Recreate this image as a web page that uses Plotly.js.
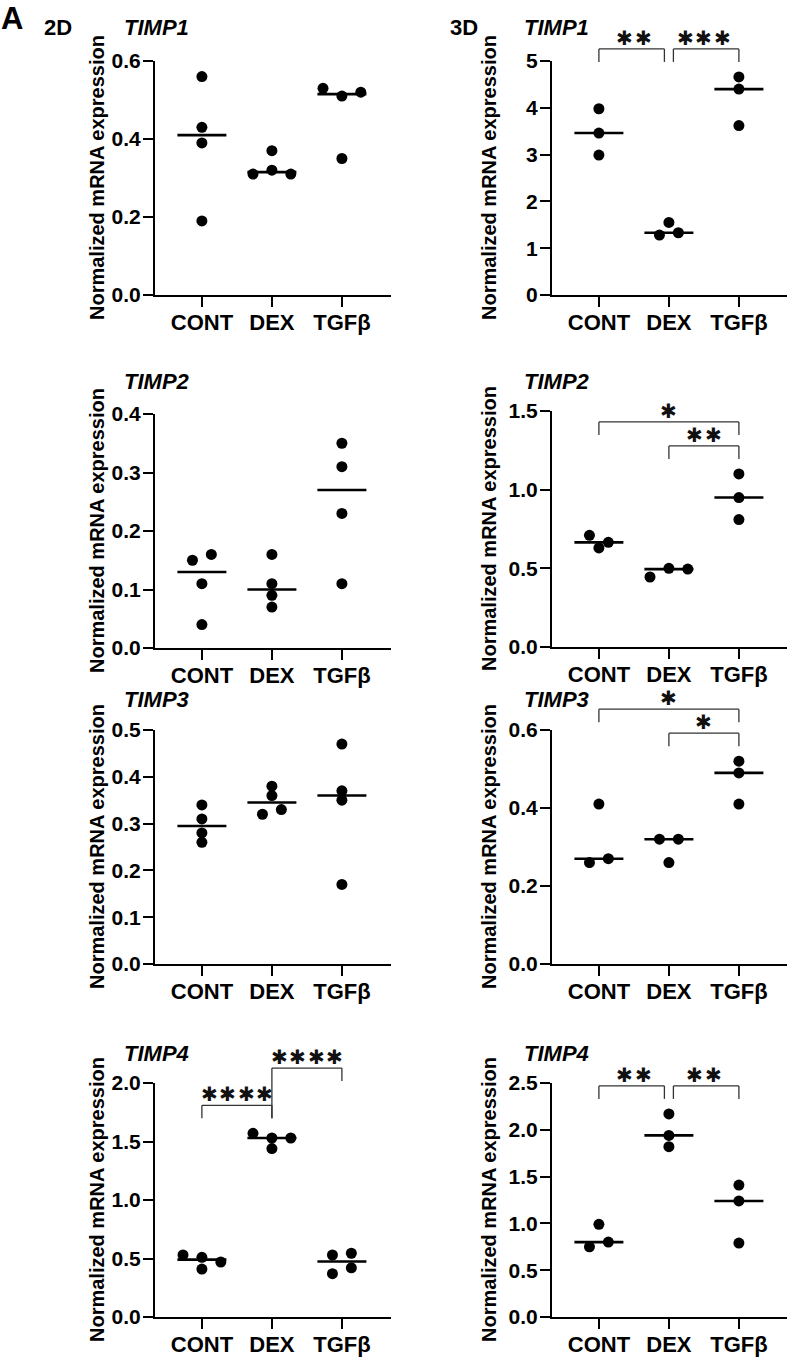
<!DOCTYPE html>
<html>
<head>
<meta charset="utf-8">
<script src="https://cdn.plot.ly/plotly-3.0.1.min.js"></script>
<style>html,body{margin:0;padding:0;background:#fff}</style>
</head>
<body>
<div id="chart" style="width:787px;height:1360px"></div>
<script>
// ---------- DATA ----------
const CATEGORIES = ['CONT', 'DEX', 'TGFβ'];
const GENES = ['TIMP1', 'TIMP2', 'TIMP3', 'TIMP4'];

// 2D culture (n = 4)
const TIMP1_2D_CONT = [0.56, 0.43, 0.39, 0.19];
const TIMP1_2D_DEX  = [0.37, 0.31, 0.32, 0.31];
const TIMP1_2D_TGFB = [0.53, 0.51, 0.52, 0.35];

const TIMP2_2D_CONT = [0.15, 0.16, 0.11, 0.04];
const TIMP2_2D_DEX  = [0.16, 0.11, 0.09, 0.07];
const TIMP2_2D_TGFB = [0.35, 0.31, 0.23, 0.11];

const TIMP3_2D_CONT = [0.34, 0.31, 0.28, 0.26];
const TIMP3_2D_DEX  = [0.38, 0.36, 0.32, 0.33];
const TIMP3_2D_TGFB = [0.47, 0.37, 0.35, 0.17];

const TIMP4_2D_CONT = [0.53, 0.51, 0.47, 0.41];
const TIMP4_2D_DEX  = [1.57, 1.53, 1.44, 1.53];
const TIMP4_2D_TGFB = [0.53, 0.545, 0.37, 0.42];

// 3D culture (n = 3)
const TIMP1_3D_CONT = [3.98, 3.46, 2.99];
const TIMP1_3D_DEX  = [1.55, 1.28, 1.33];
const TIMP1_3D_TGFB = [4.66, 4.40, 3.62];

const TIMP2_3D_CONT = [0.71, 0.665, 0.63];
const TIMP2_3D_DEX  = [0.445, 0.50, 0.495];
const TIMP2_3D_TGFB = [1.10, 0.95, 0.81];

const TIMP3_3D_CONT = [0.41, 0.26, 0.27];
const TIMP3_3D_DEX  = [0.32, 0.32, 0.26];
const TIMP3_3D_TGFB = [0.52, 0.49, 0.41];

const TIMP4_3D_CONT = [0.99, 0.75, 0.80];
const TIMP4_3D_DEX  = [2.17, 1.94, 1.82];
const TIMP4_3D_TGFB = [1.41, 1.24, 0.79];

// significance comparisons: [groupA, groupB, label]
const SIG_TIMP1_2D = [];
const SIG_TIMP2_2D = [];
const SIG_TIMP3_2D = [];
const SIG_TIMP4_2D = [[0, 1, '****'], [1, 2, '****']];
const SIG_TIMP1_3D = [[0, 1, '**'], [1, 2, '***']];
const SIG_TIMP2_3D = [[0, 2, '*'], [1, 2, '**']];
const SIG_TIMP3_3D = [[0, 2, '*'], [1, 2, '*']];
const SIG_TIMP4_3D = [[0, 1, '**'], [1, 2, '**']];

// ---------- LAYOUT SPEC ----------
const W = 787, H = 1360;
const FONT = 'Liberation Sans, Arial, Helvetica, sans-serif';
const STAR_FAMILY = 'DejaVu Sans, Liberation Sans, sans-serif';
const STAR_GLYPH = '\u2731';
const COL_X = [[155, 391], [552, 787]];
const ROWS = [
  [[61, 295], [61, 295]],
  [[414, 648], [411, 647]],
  [[730, 964], [730, 964]],
  [[1083, 1317], [1083, 1317]]
];
const TITLE_Y = [27, 381, 700, 1053];
const TITLE_X = [122, 522];
const YTITLE_X = [97, 489];
const CAT_PX = 70;          // px per category unit
const SPREAD = 0.27;        // jitter step (category units)
const BIN_PX = 9;           // points closer than this (px) share a row
const HALF = 0.35;          // half-width of median line
const STAR_FONT = 20, STAR_SP = 18.5, STAR_LIFT = 11;

const panels = [
  {col:0,row:0,gene:0,data:[TIMP1_2D_CONT,TIMP1_2D_DEX,TIMP1_2D_TGFB],ymax:0.6,dtick:0.2,fmt:'.1f',sig:SIG_TIMP1_2D,levels:[]},
  {col:1,row:0,gene:0,data:[TIMP1_3D_CONT,TIMP1_3D_DEX,TIMP1_3D_TGFB],ymax:5,dtick:1,fmt:'.0f',sig:SIG_TIMP1_3D,levels:[0,0]},
  {col:0,row:1,gene:1,data:[TIMP2_2D_CONT,TIMP2_2D_DEX,TIMP2_2D_TGFB],ymax:0.4,dtick:0.1,fmt:'.1f',sig:SIG_TIMP2_2D,levels:[]},
  {col:1,row:1,gene:1,data:[TIMP2_3D_CONT,TIMP2_3D_DEX,TIMP2_3D_TGFB],ymax:1.5,dtick:0.5,fmt:'.1f',sig:SIG_TIMP2_3D,levels:[1,0]},
  {col:0,row:2,gene:2,data:[TIMP3_2D_CONT,TIMP3_2D_DEX,TIMP3_2D_TGFB],ymax:0.5,dtick:0.1,fmt:'.1f',sig:SIG_TIMP3_2D,levels:[]},
  {col:1,row:2,gene:2,data:[TIMP3_3D_CONT,TIMP3_3D_DEX,TIMP3_3D_TGFB],ymax:0.6,dtick:0.2,fmt:'.1f',sig:SIG_TIMP3_3D,levels:[1,0]},
  {col:0,row:3,gene:3,data:[TIMP4_2D_CONT,TIMP4_2D_DEX,TIMP4_2D_TGFB],ymax:2.0,dtick:0.5,fmt:'.1f',sig:SIG_TIMP4_2D,levels:[0,1.55],extendA:[false,true]},
  {col:1,row:3,gene:3,data:[TIMP4_3D_CONT,TIMP4_3D_DEX,TIMP4_3D_TGFB],ymax:2.5,dtick:0.5,fmt:'.1f',sig:SIG_TIMP4_3D,levels:[0,0]}
];

function median(a) {
  const s = [...a].sort((x, y) => x - y), n = s.length;
  return n % 2 ? s[(n - 1) / 2] : (s[n / 2 - 1] + s[n / 2]) / 2;
}
function swarm(vals, ppu) {
  const order = vals.map((v, i) => i).sort((a, b) => vals[b] - vals[a]);
  const offs = new Array(vals.length).fill(0);
  const bins = []; let cur = null;
  order.forEach(i => {
    if (cur && (vals[cur.top] - vals[i]) * ppu < BIN_PX) cur.m.push(i);
    else { cur = {top: i, m: [i]}; bins.push(cur); }
  });
  bins.forEach(b => {
    b.m.sort((a, c) => a - c);
    const n = b.m.length;
    b.m.forEach((i, k) => { offs[i] = (k - (n - 1) / 2) * SPREAD; });
  });
  return offs;
}

const traces = [], shapes = [], annotations = [];
const layout = {
  width: W, height: H,
  margin: {l: 0, r: 0, t: 0, b: 0},
  paper_bgcolor: '#fff', plot_bgcolor: '#fff',
  showlegend: false,
  font: {family: FONT, color: '#000'},
  shapes: shapes, annotations: annotations
};

panels.forEach((p, k) => {
  const n = k + 1;
  const xid = 'x' + (n === 1 ? '' : n), yid = 'y' + (n === 1 ? '' : n);
  const xKey = 'xaxis' + (n === 1 ? '' : n), yKey = 'yaxis' + (n === 1 ? '' : n);
  const cx = COL_X[p.col], ry = ROWS[p.row][p.col];
  const hPx = ry[1] - ry[0];
  const ppu = hPx / p.ymax;
  const wUnits = (cx[1] - cx[0]) / CAT_PX;
  const xr0 = -0.67;

  layout[xKey] = {
    domain: [cx[0] / W, cx[1] / W], anchor: yid,
    range: [xr0, xr0 + wUnits],
    tickvals: [0, 1, 2], ticktext: CATEGORIES,
    showline: true, linewidth: 2, linecolor: '#000',
    ticks: 'outside', ticklen: 10, tickwidth: 2, tickcolor: '#000',
    ticklabelstandoff: -3,
    tickfont: {family: FONT, size: 22, weight: 'bold', color: '#000'},
    showgrid: false, zeroline: false, fixedrange: true
  };
  layout[yKey] = {
    domain: [1 - ry[1] / H, 1 - ry[0] / H], anchor: xid,
    range: [0, p.ymax], tick0: 0, dtick: p.dtick, tickformat: p.fmt,
    showline: true, linewidth: 2, linecolor: '#000',
    ticks: 'outside', ticklen: 10, tickwidth: 2, tickcolor: '#000',
    ticklabelstandoff: -2,
    tickfont: {family: FONT, size: 21, weight: 'bold', color: '#000'},
    showgrid: false, zeroline: false, fixedrange: true
  };

  // points + medians
  p.data.forEach((vals, g) => {
    const offs = swarm(vals, ppu);
    traces.push({
      type: 'scatter', mode: 'markers', xaxis: xid, yaxis: yid,
      x: offs.map(o => g + o), y: vals, cliponaxis: false,
      marker: {size: 11, color: '#000'}, hoverinfo: 'skip'
    });
    const m = median(vals);
    traces.push({
      type: 'scatter', mode: 'lines', xaxis: xid, yaxis: yid,
      x: [g - HALF, g + HALF], y: [m, m], cliponaxis: false,
      line: {color: '#000', width: 2.6}, hoverinfo: 'skip'
    });
  });

  // significance brackets
  const allMax = Math.max(...p.data.flat());
  const baseTop = allMax * ppu + 28;
  const LEG = 13, STEP = 24, GAP = 4.5 / CAT_PX;
  p.sig.forEach((s, j) => {
    const [a, b, label] = s;
    const lvl = p.levels[j];
    const topPx = baseTop + lvl * STEP;
    let xa = a, xb = b;
    p.sig.forEach((t, q) => {
      if (q === j || p.levels[q] !== lvl) return;
      if (t[1] === a) xa = a + GAP;
      if (t[0] === b) xb = b - GAP;
    });
    const ext = p.extendA && p.extendA[j];
    const legA = ext ? baseTop - LEG : topPx - LEG;
    const legB = topPx - LEG;
    const yd = px => px / hPx;
    const ln = {color: '#333', width: 1.3};
    const yref = yid + ' domain';
    shapes.push({type: 'line', xref: xid, yref: yref, x0: xa, x1: xa, y0: yd(legA), y1: yd(topPx), line: ln});
    shapes.push({type: 'line', xref: xid, yref: yref, x0: xa, x1: xb, y0: yd(topPx), y1: yd(topPx), line: ln});
    shapes.push({type: 'line', xref: xid, yref: yref, x0: xb, x1: xb, y0: yd(legB), y1: yd(topPx), line: ln});
    const ns = label.length;
    for (let i = 0; i < ns; i++) {
      annotations.push({
        xref: xid, yref: yref, x: (a + b) / 2, y: yd(topPx),
        xshift: (i - (ns - 1) / 2) * STAR_SP, yshift: STAR_LIFT,
        xanchor: 'center', yanchor: 'middle', showarrow: false,
        text: label[i] === '*' ? STAR_GLYPH : label[i],
        font: {family: STAR_FAMILY, size: STAR_FONT, weight: 'bold', color: '#111'}
      });
    }
  });

  // gene title
  annotations.push({
    xref: 'paper', yref: 'paper', x: TITLE_X[p.col] / W, y: 1 - TITLE_Y[p.row] / H,
    xanchor: 'left', yanchor: 'middle', showarrow: false, text: GENES[p.gene],
    font: {family: FONT, size: 22, weight: 'bold', style: 'italic', color: '#000'}
  });
  // y-axis title
  annotations.push({
    xref: 'paper', yref: 'paper', x: YTITLE_X[p.col] / W, y: 1 - (ry[0] + ry[1]) / 2 / H,
    xanchor: 'center', yanchor: 'middle', showarrow: false, textangle: -90,
    text: 'Normalized mRNA expression',
    font: {family: FONT, size: 20, weight: 'bold', color: '#000'}
  });
});

// panel labels
annotations.push({xref:'paper',yref:'paper',x:12/W,y:1-19/H,xanchor:'center',yanchor:'middle',showarrow:false,
  text:'A',font:{family:FONT,size:31,weight:'bold',color:'#000'}});
annotations.push({xref:'paper',yref:'paper',x:58/W,y:1-27/H,xanchor:'center',yanchor:'middle',showarrow:false,
  text:'2D',font:{family:FONT,size:22,weight:'bold',color:'#000'}});
annotations.push({xref:'paper',yref:'paper',x:464/W,y:1-27/H,xanchor:'center',yanchor:'middle',showarrow:false,
  text:'3D',font:{family:FONT,size:22,weight:'bold',color:'#000'}});

Plotly.newPlot('chart', traces, layout, {staticPlot: true, displayModeBar: false});
</script>
</body>
</html>
